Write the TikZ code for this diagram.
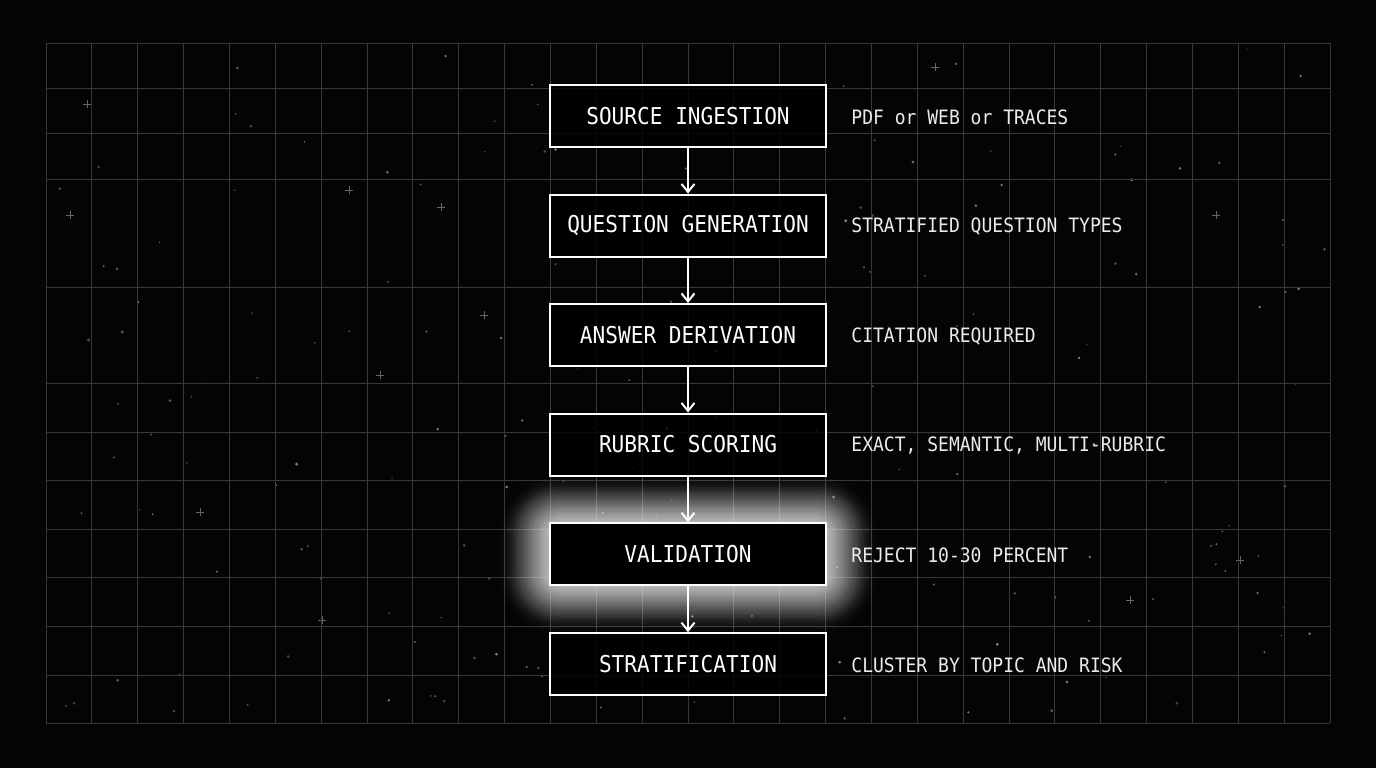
\documentclass[tikz,border=0pt]{standalone}
\usepackage{fontspec}
\newfontfamily\mono[FakeStretch=0.91]{DejaVu Sans Mono}
\usetikzlibrary{arrows.meta}
\definecolor{gridgray}{gray}{0.22}
\definecolor{bgblack}{gray}{0.015}
\begin{document}
\begin{tikzpicture}[x=0.5pt,y=-0.5pt,
  gridline/.style={draw=gridgray, line width=0.5pt},
  stage/.style={draw=white, line width=1pt, fill=black, fill opacity=0.82, text opacity=1,
    minimum width=138pt, minimum height=31pt, inner sep=0pt,
    font=\mono\fontsize{11.6}{12}\selectfont, text=white},
  note/.style={anchor=west, inner sep=0pt, font=\mono\fontsize{9.9}{11}\selectfont, text=white!92!black},
  flow/.style={draw=white, line width=1pt, -{Straight Barb[length=4pt,width=6.5pt,line width=1pt]}},
  starcross/.style={draw=white!40!black, line width=0.5pt}]
\fill[bgblack] (0,0) rectangle (1376,768);
\useasboundingbox (0,0) rectangle (1376,768);
% stars
\pgfmathsetseed{12}
\foreach \i in {1,...,170}{
  \pgfmathsetmacro\sx{46+1284*rnd}
  \pgfmathsetmacro\sy{43+680*rnd}
  \pgfmathsetmacro\sr{0.35+0.45*rnd}
  \pgfmathsetmacro\sg{25+30*rnd}
  \fill[white!\sg!black] (\sx,\sy) circle[radius=\sr pt];
}
\foreach \cx/\cy in {87/104, 349/190, 70/215, 935/67, 1216/215, 441/207, 484/315, 380/375, 200/512, 1240/560, 1130/600, 322/620}{
  \draw[starcross] (\cx-4,\cy) -- (\cx+4,\cy) (\cx,\cy-4) -- (\cx,\cy+4);
}
% grid
\foreach \k in {0,...,28}{
  \draw[gridline] ({46+\k*45.857},43) -- ({46+\k*45.857},723);
}
\foreach \yy in {43,88.3,133.7,179,287,383.3,432,480.3,529,577.7,626.3,675,723.3}{
  \draw[gridline] (46,\yy) -- (1330,\yy);
}
% glow around validation
\foreach \i in {1,...,40}{
  \pgfmathsetmacro\o{\i*1.3}
  \pgfmathsetmacro\r{6+\o*0.5}
  \pgfmathsetmacro\op{0.07*(1-\i/41)}
  \fill[white, opacity=\op, rounded corners=\r pt] ({550-\o*1.08},{523.3-\o}) rectangle ({826+\o*1.08},{585.3+\o});
}
% stages
\node[stage] (s1) at (688,116) {SOURCE INGESTION};
\node[stage] (s2) at (688,225.5) {QUESTION GENERATION};
\node[stage] (s3) at (688,335) {ANSWER DERIVATION};
\node[stage] (s4) at (688,444.5) {RUBRIC SCORING};
\node[stage, fill opacity=1] (s5) at (688,554.3) {VALIDATION};
\node[stage] (s6) at (688,664.2) {STRATIFICATION};
% notes
\node[note] (n1) at (851,117) {PDF or WEB or TRACES};
\node[note] (n2) at (851,226.5) {STRATIFIED QUESTION TYPES};
\node[note] (n3) at (851,336) {CITATION REQUIRED};
\node[note] (n4) at (851,445.5) {EXACT, SEMANTIC, MULTI-RUBRIC};
\node[note] (n5) at (851,555.3) {REJECT 10-30 PERCENT};
\node[note] (n6) at (851,665.2) {CLUSTER BY TOPIC AND RISK};
% arrows
\draw[flow] (s1.south) -- (s2.north);
\draw[flow] (s2.south) -- (s3.north);
\draw[flow] (s3.south) -- (s4.north);
\draw[flow] (s4.south) -- (s5.north);
\draw[flow] (s5.south) -- (s6.north);
\end{tikzpicture}
\end{document}
